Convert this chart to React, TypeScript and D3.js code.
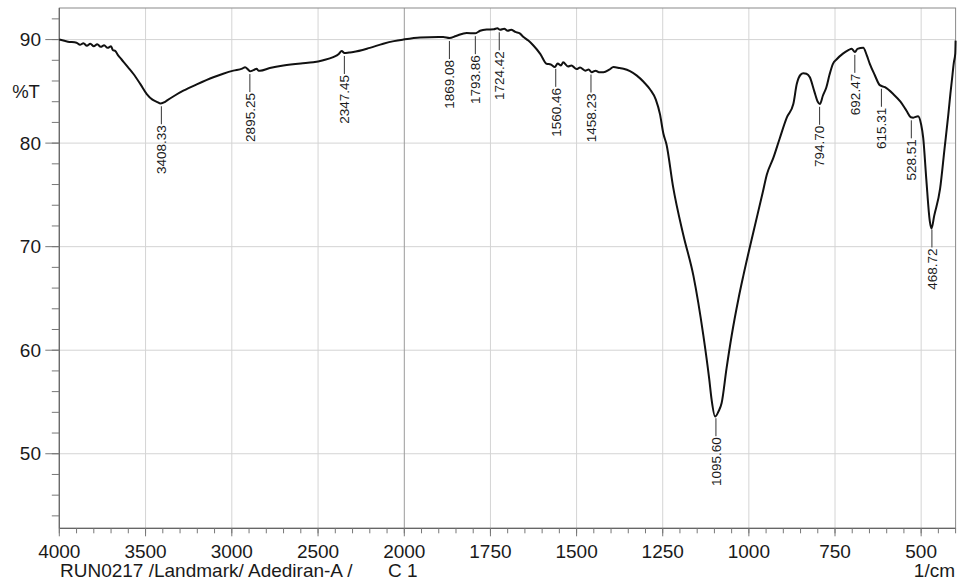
import React from "react";
import * as d3 from "d3";

const W = 963;
const H = 581;

// Spectrum: wavenumber (1/cm) and %T
const wavenumbers = [
  4000, 3950, 3900, 3880, 3860, 3840, 3820, 3800, 3780, 3760, 3740, 3720, 3700, 3690, 3675, 3660, 3640, 3600,
  3571, 3530, 3493, 3460, 3435, 3412, 3390, 3377, 3330, 3281, 3200, 3107, 3050, 2991, 2940, 2923, 2905, 2894,
  2875, 2856, 2845, 2837, 2780, 2701, 2600, 2528, 2470, 2412, 2380, 2363, 2347, 2320, 2296, 2200, 2122, 2060,
  2006, 1954, 1900, 1887, 1869, 1850, 1819, 1795, 1780, 1761, 1740, 1730, 1722, 1710, 1700, 1690, 1678, 1665,
  1654, 1640, 1626, 1605, 1587, 1575, 1563, 1555, 1545, 1539, 1525, 1515, 1500, 1490, 1475, 1465, 1456, 1445,
  1435, 1422, 1405, 1393, 1375, 1364, 1345, 1325, 1305, 1287, 1270, 1258, 1248, 1239, 1220, 1190, 1161, 1132,
  1115, 1108, 1098, 1088, 1079, 1065, 1050, 1030, 1016, 987, 960, 948, 929, 910, 890, 871, 861, 850, 842, 833,
  823, 810, 800, 794, 785, 775, 766, 756, 745, 727, 710, 702, 692, 685, 668, 658, 649, 635, 620, 605, 581, 560,
  542, 530, 523, 509, 500, 494, 485, 475, 470, 462, 445, 432, 421, 415, 411, 405, 401, 400,
];
const transmittance = [
  90.0, 89.8, 89.7, 89.5, 89.65, 89.4, 89.6, 89.35, 89.55, 89.3, 89.45, 89.2, 89.35, 89.0, 88.9, 88.5, 88.1, 87.3,
  86.7, 85.7, 84.74, 84.2, 83.99, 83.83, 83.95, 84.1, 84.6, 85.06, 85.7, 86.36, 86.7, 87.0, 87.2, 87.33, 87.1, 86.94,
  87.05, 87.18, 87.0, 87.0, 87.25, 87.5, 87.7, 87.8, 88.0, 88.3, 88.6, 88.9, 88.7, 88.75, 88.8, 89.2, 89.6, 89.85,
  90.0, 90.2, 90.25, 90.25, 90.15, 90.35, 90.64, 90.6, 90.85, 90.97, 91.0, 91.1, 90.95, 91.05, 90.85, 90.95, 90.74, 90.6,
  90.25, 89.9, 89.45, 88.6, 87.66, 87.6, 87.35, 87.7, 87.5, 87.8, 87.4, 87.5, 87.15, 87.3, 87.0, 87.1, 86.85, 87.0,
  86.85, 86.85, 87.1, 87.35, 87.25, 87.18, 86.95, 86.52, 85.9, 85.2, 84.2, 82.8, 80.9, 79.87, 75.8, 71.1, 67.2, 61.4,
  57.2, 55.2, 53.6, 54.1, 54.9, 58.2, 61.4, 65.0, 67.2, 71.4, 75.2, 76.95, 78.57, 80.5, 82.46, 83.77, 85.7, 86.6, 86.75, 86.7,
  86.36, 85.0, 84.0, 83.77, 84.6, 85.4, 86.6, 87.66, 88.1, 88.64, 89.0, 89.12, 88.8, 89.1, 89.22, 88.5, 87.66, 86.6, 85.6, 85.4, 84.74, 84.0,
  83.1, 82.5, 82.46, 82.6, 81.8, 80.5, 76.5, 72.5, 71.75, 73.0, 75.6, 79.5, 82.8, 84.8, 86.0, 87.8, 88.64, 89.9,
];

const peakLabels = [3408.33, 2895.25, 2347.45, 1869.08, 1793.86, 1724.42, 1560.46, 1458.23, 1095.6, 794.7, 692.47, 615.31, 528.51, 468.72];

const xMajorTicks = [4000, 3500, 3000, 2500, 2000, 1750, 1500, 1250, 1000, 750, 500];
const xMinorLeft = d3.range(4000, 2000, -100);
const xMinorRight = d3.range(2000, 399, -50);
const yMajorTicks = [50, 60, 70, 80, 90];
const yMinorTicks = d3.range(44, 93, 2);

const xTitle = "RUN0217 /Landmark/ Adediran-A /";
const xTitle2 = "C 1";
const xUnit = "1/cm";
const yTitle = "%T";

const FONT = "'Liberation Sans', Arial, Helvetica, sans-serif";

export default function App() {
  const left = 59.3;
  const right = 955.6;
  const top = 8;
  const bottom = 528.3;

  // Broken (piecewise) wavenumber axis: 4000-2000 is compressed, 2000-400 expanded
  const x = d3.scaleLinear().domain([4000, 2000, 400]).range([left, 404.3, right]);
  const y = d3.scaleLinear().domain([42.8, 93.05]).range([bottom, top]);

  const pts = wavenumbers.map((w, i) => [w, transmittance[i]] as [number, number]);
  const line = d3
    .line<[number, number]>()
    .x((d) => x(d[0]))
    .y((d) => y(d[1]))
    .curve(d3.curveMonotoneX);

  const interp = (w: number) => {
    for (let i = 0; i < pts.length - 1; i++) {
      const [w0, t0] = pts[i];
      const [w1, t1] = pts[i + 1];
      if (w <= w0 && w >= w1) {
        const f = (w0 - w) / (w0 - w1);
        return t0 + (t1 - t0) * f;
      }
    }
    return pts[pts.length - 1][1];
  };

  const leaderLen = 18;

  return (
    <svg
      width={W}
      height={H}
      style={{ position: "absolute", left: 0, top: 0, background: "#fff" }}
      fontFamily={FONT}
    >
      <rect x={0} y={0} width={W} height={H} fill="#fff" />
      {/* gridlines */}
      {yMajorTicks.map((t) => (
        <line key={"gy" + t} x1={left} x2={right} y1={y(t)} y2={y(t)} stroke="#d4d4d4" strokeWidth={1} />
      ))}
      {xMajorTicks
        .filter((t) => t !== 4000)
        .map((t) => (
          <line
            key={"gx" + t}
            x1={x(t)}
            x2={x(t)}
            y1={top}
            y2={bottom}
            stroke={t === 2000 ? "#9a9a9a" : "#d4d4d4"}
            strokeWidth={1}
          />
        ))}
      {/* frame */}
      <rect x={left} y={top} width={right - left} height={bottom - top} fill="none" stroke="#8a8a8a" strokeWidth={1} />
      <line x1={left} x2={left} y1={top} y2={bottom} stroke="#666" strokeWidth={1.2} />
      <line x1={left} x2={right} y1={bottom} y2={bottom} stroke="#666" strokeWidth={1.2} />

      {/* y ticks */}
      {yMinorTicks.map((t) => (
        <line key={"ym" + t} x1={left - 7.5} x2={left} y1={y(t)} y2={y(t)} stroke="#777" strokeWidth={1} />
      ))}
      {yMajorTicks.map((t) => (
        <g key={"yM" + t}>
          <line x1={left - 14} x2={left} y1={y(t)} y2={y(t)} stroke="#777" strokeWidth={1} />
          <text x={41} y={y(t)} dy="0.35em" textAnchor="end" fontSize={19} fill="#1a1a1a">
            {t}
          </text>
        </g>
      ))}
      <text x={26} y={92} dy="0.35em" textAnchor="middle" fontSize={18.5} fill="#1a1a1a">
        {yTitle}
      </text>

      {/* x ticks */}
      {[...xMinorLeft, ...xMinorRight].map((t, i) => (
        <line key={"xm" + i} x1={x(t)} x2={x(t)} y1={bottom} y2={bottom + 5} stroke="#777" strokeWidth={1} />
      ))}
      {xMajorTicks.map((t) => (
        <g key={"xM" + t}>
          <line x1={x(t)} x2={x(t)} y1={bottom} y2={bottom + 8} stroke="#777" strokeWidth={1} />
          <text x={x(t)} y={558} textAnchor="middle" fontSize={19} fill="#1a1a1a">
            {t}
          </text>
        </g>
      ))}
      <text x={60} y={577} fontSize={19} fill="#1a1a1a">
        {xTitle}
      </text>
      <text x={388} y={577} fontSize={19} fill="#1a1a1a">
        {xTitle2}
      </text>
      <text x={955} y={577} textAnchor="end" fontSize={19} fill="#1a1a1a">
        {xUnit}
      </text>

      {/* spectrum */}
      <path d={line(pts) || ""} fill="none" stroke="#111" strokeWidth={2} strokeLinejoin="round" />

      {/* peak labels */}
      {peakLabels.map((w) => {
        const px = x(w);
        const py = y(interp(w)) + 3;
        const pe = py + leaderLen;
        return (
          <g key={"pk" + w}>
            <line x1={px} x2={px} y1={py} y2={pe} stroke="#333" strokeWidth={1} />
            <text
              transform={`translate(${px + 4.8},${pe + 1}) rotate(-90)`}
              textAnchor="end"
              fontSize={13.5}
              fill="#1a1a1a"
            >
              {w.toFixed(2)}
            </text>
          </g>
        );
      })}
    </svg>
  );
}
